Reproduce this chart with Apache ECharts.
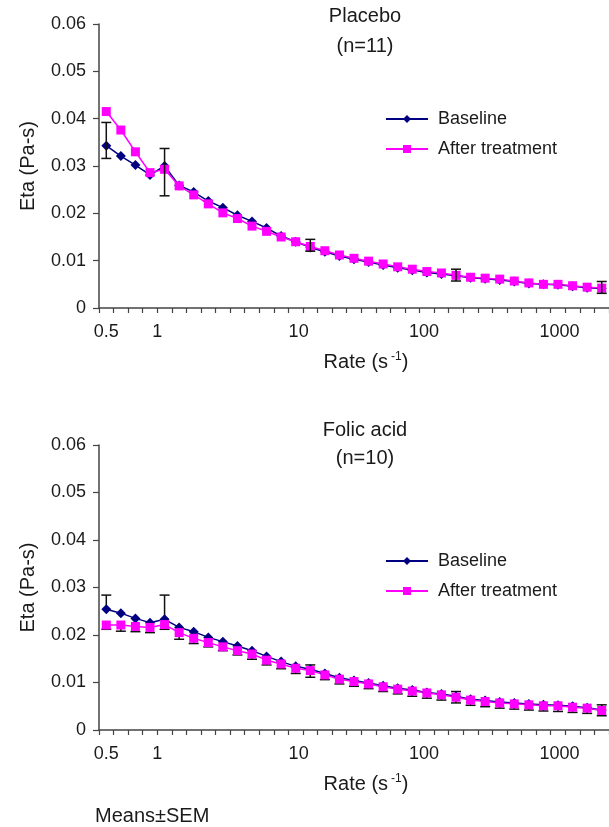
<!DOCTYPE html>
<html>
<head>
<meta charset="utf-8">
<script src="https://cdn.jsdelivr.net/npm/echarts@6/dist/echarts.min.js"></script>
<style>
  html, body { margin: 0; padding: 0; background: #fff; }
  #chart { width: 609px; height: 827px; }
</style>
</head>
<body>
<div id="chart"></div>
<script>
// x is a category axis in the original (one point per tick step), labels placed by hand
var xLabelPos = [0, 3.5, 13.2, 21.8, 31.1];
var xLabelText = ['0.5', '1', '10', '100', '1000'];
var yTicks = [0, 0.01, 0.02, 0.03, 0.04, 0.05, 0.06];

// Placebo (n=11)
var topBaseline = [0.0343, 0.0321, 0.0302, 0.0281, 0.0300, 0.0259, 0.0245, 0.0226, 0.0212, 0.0196,
  0.0183, 0.0169, 0.0152, 0.0140, 0.0128, 0.0119, 0.0110, 0.0103, 0.0097, 0.0091,
  0.0085, 0.0080, 0.0075, 0.0072, 0.0068, 0.0064, 0.0062, 0.0059, 0.0056, 0.0052,
  0.0050, 0.0049, 0.0046, 0.0043, 0.0041];
var topAfter = [0.0415, 0.0376, 0.0330, 0.0286, 0.0293, 0.0258, 0.0239, 0.0220, 0.0201, 0.0189,
  0.0173, 0.0162, 0.0150, 0.0140, 0.0130, 0.0121, 0.0112, 0.0105, 0.0099, 0.0093,
  0.0087, 0.0082, 0.0077, 0.0074, 0.0069, 0.0065, 0.0063, 0.0061, 0.0057, 0.0053,
  0.0050, 0.0050, 0.0047, 0.0044, 0.0042];
var topErrIdx = [0, 4, 14, 24, 34];
var topErrLo = [0.0316, 0.0237, 0.0120, 0.0057, 0.0031];
var topErrHi = [0.0392, 0.0337, 0.0145, 0.0082, 0.0056];

// Folic acid (n=10)
var botBaseline = [0.0254, 0.0246, 0.0235, 0.0226, 0.0233, 0.0216, 0.0207, 0.0195, 0.0186, 0.0177,
  0.0167, 0.0155, 0.0144, 0.0134, 0.0128, 0.0119, 0.0110, 0.0104, 0.0099, 0.0093,
  0.0088, 0.0084, 0.0079, 0.0076, 0.0071, 0.0065, 0.0062, 0.0059, 0.0057, 0.0055,
  0.0053, 0.0052, 0.0050, 0.0047, 0.0042];
var botAfter = [0.0221, 0.0221, 0.0218, 0.0216, 0.0222, 0.0205, 0.0193, 0.0184, 0.0175, 0.0167,
  0.0160, 0.0147, 0.0139, 0.0130, 0.0125, 0.0116, 0.0107, 0.0102, 0.0097, 0.0091,
  0.0086, 0.0082, 0.0078, 0.0074, 0.0069, 0.0063, 0.0060, 0.0057, 0.0055, 0.0053,
  0.0051, 0.0051, 0.0048, 0.0046, 0.0041];
var botBaseErrIdx = [0, 4, 14, 24, 34];
var botBaseErrHi = [0.0284, 0.0284, 0.0137, 0.0081, 0.0053];
var botAfterSem = [0.0009, 0.0013, 0.0011, 0.0011, 0.0010, 0.0014, 0.0011, 0.0009, 0.0008, 0.0009,
  0.0011, 0.0010, 0.0010, 0.0011, 0.0014, 0.0010, 0.0010, 0.0010, 0.0010, 0.0010,
  0.0010, 0.0011, 0.0011, 0.0011, 0.0012, 0.0011, 0.0011, 0.0011, 0.0011, 0.0011,
  0.0011, 0.0012, 0.0011, 0.0011, 0.0011];

var font = "'Liberation Sans', Arial, Helvetica, sans-serif";
var navy = '#000080';
var pink = '#ff00ff';

var tickVals = [];
for (var t = 0; t <= topBaseline.length; t++) tickVals.push(t - 0.5);

function pairs(arr) {
  return arr.map(function (v, i) { return [i, v]; });
}

// error bar: [x, from, to, capFrom, capTo]
function errRender(params, api) {
  var x = api.value(0);
  var p1 = api.coord([x, api.value(1)]);
  var p2 = api.coord([x, api.value(2)]);
  var w = 5;
  var st = { stroke: '#111', lineWidth: 1.5 };
  var kids = [{ type: 'line', shape: { x1: p1[0], y1: p1[1], x2: p2[0], y2: p2[1] }, style: st }];
  if (api.value(3)) kids.push({ type: 'line', shape: { x1: p1[0] - w, y1: p1[1], x2: p1[0] + w, y2: p1[1] }, style: st });
  if (api.value(4)) kids.push({ type: 'line', shape: { x1: p2[0] - w, y1: p2[1], x2: p2[0] + w, y2: p2[1] }, style: st });
  return { type: 'group', children: kids };
}

var topErr = topErrIdx.map(function (i, k) { return [i, topErrLo[k], topErrHi[k], 1, 1]; });
var botErr = botBaseErrIdx.map(function (i, k) { return [i, botBaseline[i], botBaseErrHi[k], 0, 1]; });
botAfter.forEach(function (v, i) { botErr.push([i, v, v - botAfterSem[i], 0, 1]); });

function xAxisCfg(idx) {
  return {
    type: 'value', gridIndex: idx, min: -0.5, max: topBaseline.length - 0.5,
    splitLine: { show: false },
    axisLine: { onZero: false, lineStyle: { color: '#444', width: 1.5 } },
    axisTick: { customValues: tickVals, length: 5, lineStyle: { color: '#444', width: 1.2 } },
    axisLabel: {
      customValues: xLabelPos, margin: 15, fontSize: 18, color: '#1a1a1a', fontFamily: font,
      formatter: function (v) {
        var k = xLabelPos.indexOf(v);
        return k >= 0 ? xLabelText[k] : '';
      }
    },
    name: 'Rate (s{sup|-1})', nameLocation: 'middle', nameGap: 43,
    nameTextStyle: {
      fontSize: 20, color: '#1a1a1a', fontFamily: font, padding: [0, 0, 0, 24],
      rich: { sup: { fontSize: 12, verticalAlign: 'top', padding: [0, 0, 10, 3], fontFamily: font, color: '#1a1a1a' } }
    }
  };
}

function yAxisCfg(idx) {
  return {
    type: 'value', gridIndex: idx, min: 0, max: 0.06, interval: 0.01,
    splitLine: { show: false },
    axisLine: { show: true, onZero: false, lineStyle: { color: '#444', width: 1.5 } },
    axisTick: { show: true, length: 6, lineStyle: { color: '#444', width: 1.2 } },
    axisLabel: {
      margin: 13, fontSize: 18, color: '#1a1a1a', fontFamily: font,
      formatter: function (v) { return v === 0 ? '0' : v.toFixed(2); }
    },
    name: 'Eta (Pa-s)', nameLocation: 'middle', nameGap: 61,
    nameTextStyle: { fontSize: 20, color: '#1a1a1a', fontFamily: font }
  };
}

function lineSeries(name, data, idx, color, symbol, size) {
  return {
    name: name, type: 'line', xAxisIndex: idx, yAxisIndex: idx,
    data: pairs(data), symbol: symbol, symbolSize: size,
    lineStyle: { color: color, width: 1.5 }, itemStyle: { color: color },
    emphasis: { disabled: true }, animation: false
  };
}

function legendCfg(top, left) {
  return {
    orient: 'vertical', left: left, top: top, padding: 0, itemWidth: 42, itemHeight: 10, itemGap: 12,
    textStyle: { fontSize: 18, color: '#1a1a1a', fontFamily: font, padding: [0, 0, 0, 5] },
    data: ['Baseline', 'After treatment']
  };
}

var chart = echarts.init(document.getElementById('chart'));
chart.setOption({
  backgroundColor: '#fff',
  animation: false,
  title: [
    { text: 'Placebo\n(n=11)', left: 360, top: -4, textAlign: 'center',
      textStyle: { fontSize: 20, fontWeight: 'normal', color: '#1a1a1a', fontFamily: font, lineHeight: 30 } },
    { text: 'Folic acid\n(n=10)', left: 360, top: 411, textAlign: 'center',
      textStyle: { fontSize: 20, fontWeight: 'normal', color: '#1a1a1a', fontFamily: font, lineHeight: 28 } }
  ],
  legend: [legendCfg(110, 385), legendCfg(552, 385)],
  grid: [
    { left: 99, right: 0, top: 24, height: 284 },
    { left: 99, right: 0, top: 445, height: 285 }
  ],
  xAxis: [xAxisCfg(0), xAxisCfg(1)],
  yAxis: [yAxisCfg(0), yAxisCfg(1)],
  graphic: [
    { type: 'text', left: 95, top: 806,
      style: { text: 'Means±SEM', fontSize: 20, fill: '#1a1a1a', fontFamily: font } }
  ],
  series: [
    { type: 'custom', name: 'errBot', xAxisIndex: 1, yAxisIndex: 1, renderItem: errRender,
      data: botErr, encode: { x: 0, y: [1, 2] }, z: 1, silent: true },
    lineSeries('Baseline', topBaseline, 0, navy, 'diamond', 10),
    lineSeries('After treatment', topAfter, 0, pink, 'rect', 9),
    lineSeries('Baseline', botBaseline, 1, navy, 'diamond', 10),
    lineSeries('After treatment', botAfter, 1, pink, 'rect', 9),
    { type: 'custom', name: 'errTop', xAxisIndex: 0, yAxisIndex: 0, renderItem: errRender,
      data: topErr, encode: { x: 0, y: [1, 2] }, z: 5, silent: true }
  ]
});
</script>
</body>
</html>
